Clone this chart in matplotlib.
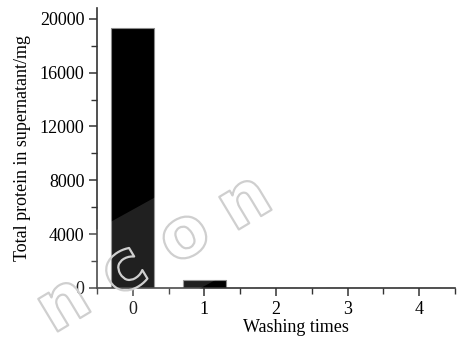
import matplotlib
matplotlib.use("Agg")
import matplotlib.pyplot as plt
import matplotlib.patheffects as pe
from matplotlib.patches import Polygon
from matplotlib.ticker import MultipleLocator

# total protein left in the supernatant after each wash
washes = [0, 1, 2, 3, 4]
protein_mg = [19300, 600, 0, 0, 0]

plt.rcParams["font.family"] = ["Liberation Serif", "DejaVu Serif"]

W, H = 458, 341
fig = plt.figure(figsize=(W / 100, H / 100), dpi=100)
ax = fig.add_axes([97 / W, 1 - 288 / H, (455 - 97) / W, (288 - 8) / H])

ax.bar(washes, protein_mg, width=0.6, color="black", edgecolor="#8a8a8a",
       linewidth=0.8, zorder=2)

ax.set_xlim(-0.5, 4.5)
ax.set_ylim(0, 20800)
ax.set_xticks(washes)
ax.xaxis.set_minor_locator(MultipleLocator(0.5))
ax.set_yticks(range(0, 20001, 4000))
ax.yaxis.set_minor_locator(MultipleLocator(2000))

for side in ("top", "right"):
    ax.spines[side].set_visible(False)
for side in ("left", "bottom"):
    ax.spines[side].set_color("#333333")
    ax.spines[side].set_linewidth(1.2)

ax.tick_params(which="major", direction="out", length=6, width=1.1,
               color="#333333", labelsize=13, pad=3)
ax.tick_params(which="minor", direction="out", length=4, width=1.0,
               color="#333333")

ax.set_xlabel("Washing times", fontsize=13)
ax.xaxis.set_label_coords(0.556, -0.11)
ax.set_ylabel("Total protein in supernatant/mg", fontsize=13, labelpad=6)


def px(x, y):
    return (x / W, 1 - y / H)


# faint diagonal band over the plot
band = Polygon([px(0, 283), px(458, 30), px(458, 146), px(0, 399)],
               closed=True, transform=fig.transFigure, facecolor="white",
               alpha=0.13, edgecolor="none", zorder=10)
fig.patches.append(band)

# hollow outlined lettering along the band
letters = ["n", "c", "o", "n"]
start, end = (64, 305), (245, 203)
for i, ch in enumerate(letters):
    t = i / (len(letters) - 1)
    x = start[0] + t * (end[0] - start[0])
    y = start[1] + t * (end[1] - start[1])
    fig.text(x / W, 1 - y / H, ch, fontsize=50, family="DejaVu Sans",
             fontweight="bold", rotation=31, ha="center", va="center",
             rotation_mode="anchor", color=(1, 1, 1, 0), zorder=11,
             path_effects=[pe.Stroke(linewidth=1.6, foreground="#cfcfcf")])

fig.savefig("out.png", dpi=100)
